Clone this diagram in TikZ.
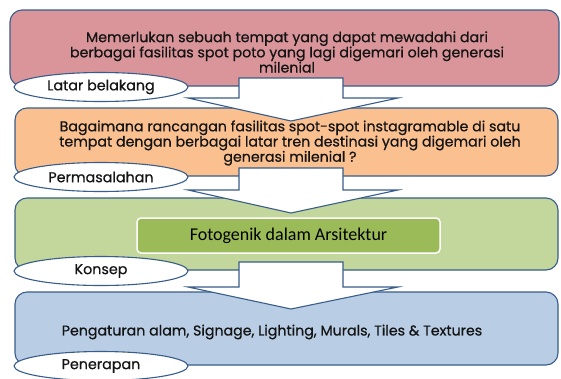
\documentclass[tikz,border=0pt]{standalone}
\usepackage{fontspec}
\usetikzlibrary{shapes.geometric}
\setmainfont{Poppins}[FakeBold=0.6]
\newfontfamily\calfont{Carlito}
\definecolor{edge}{HTML}{385D8A}
\definecolor{pinkf}{HTML}{D9959A}
\definecolor{orangef}{HTML}{FAC090}
\definecolor{greenf}{HTML}{C3D69B}
\definecolor{bluef}{HTML}{B9CDE5}
\definecolor{olive}{HTML}{9BBB59}
\definecolor{txt}{HTML}{141414}
\tikzset{
  bigbox/.style={draw=edge, line width=1.1pt, rounded corners=12pt, inner sep=0pt},
  tag/.style={ellipse, draw=edge, line width=1.1pt, fill=white, minimum width=174pt, minimum height=29pt, inner sep=0pt, text=txt, font=\fontsize{14.3}{16}\selectfont},
  bodytext/.style={align=center, text=txt, font=\fontsize{14.2}{15.2}\selectfont, inner sep=0pt},
  blockarrow/.style={draw=edge, line width=1.1pt, fill=white, line join=miter}
}
\newcommand{\downarrowblock}[4]{% name, shaft top, head y, tip y
  \draw[blockarrow] (239,#2) -- (343,#2) -- (343,#3) -- (398,#3) -- (291,#4) -- (188,#3) -- (239,#3) -- cycle;
  \coordinate (#1) at (291,#4);
}
\begin{document}
\begin{tikzpicture}[x=1pt,y=-1pt]
\useasboundingbox (0,0) rectangle (561,378);
\fill[white] (0,0) rectangle (561,378);
% box 1
\path[bigbox, fill=pinkf] (10,10) rectangle (559,86);
\node[tag] (e1) at (101,87) {Latar belakang};
\node[bodytext] (t1) at (287,52) {Memerlukan sebuah tempat yang dapat mewadahi dari\\berbagai fasilitas spot poto yang lagi digemari oleh generasi\\milenial};
% box 2
\path[bigbox, fill=orangef] (15,108) rectangle (558,176);
\node[tag] (e2) at (101,177) {Permasalahan};
\node[bodytext] (t2) at (290,143) {Bagaimana rancangan fasilitas spot-spot instagramable di satu\\tempat dengan berbagai latar tren destinasi yang digemari oleh\\generasi milenial ?};
% box 3
\path[bigbox, fill=greenf] (15,198) rectangle (558,270);
\node[tag] (e3) at (101,271) {Konsep};
\node[draw=white, line width=1.5pt, fill=olive, rounded corners=4pt, minimum width=303pt, minimum height=35pt, inner sep=0pt, font=\calfont\fontsize{18}{20}\selectfont, text=black] (f) at (288.5,235.5) {Fotogenik dalam Arsitektur};
% box 4
\path[bigbox, fill=bluef] (15,292) rectangle (558,365);
\node[tag] (e4) at (101,366) {Penerapan};
\node[bodytext] (t4) at (272,332) {Pengaturan alam, Signage, Lighting, Murals, Tiles \& Textures};
% arrows
\downarrowblock{a1}{78}{98}{121}
\downarrowblock{a2}{168}{190}{213}
\downarrowblock{a3}{262}{287}{309}
\end{tikzpicture}
\end{document}
